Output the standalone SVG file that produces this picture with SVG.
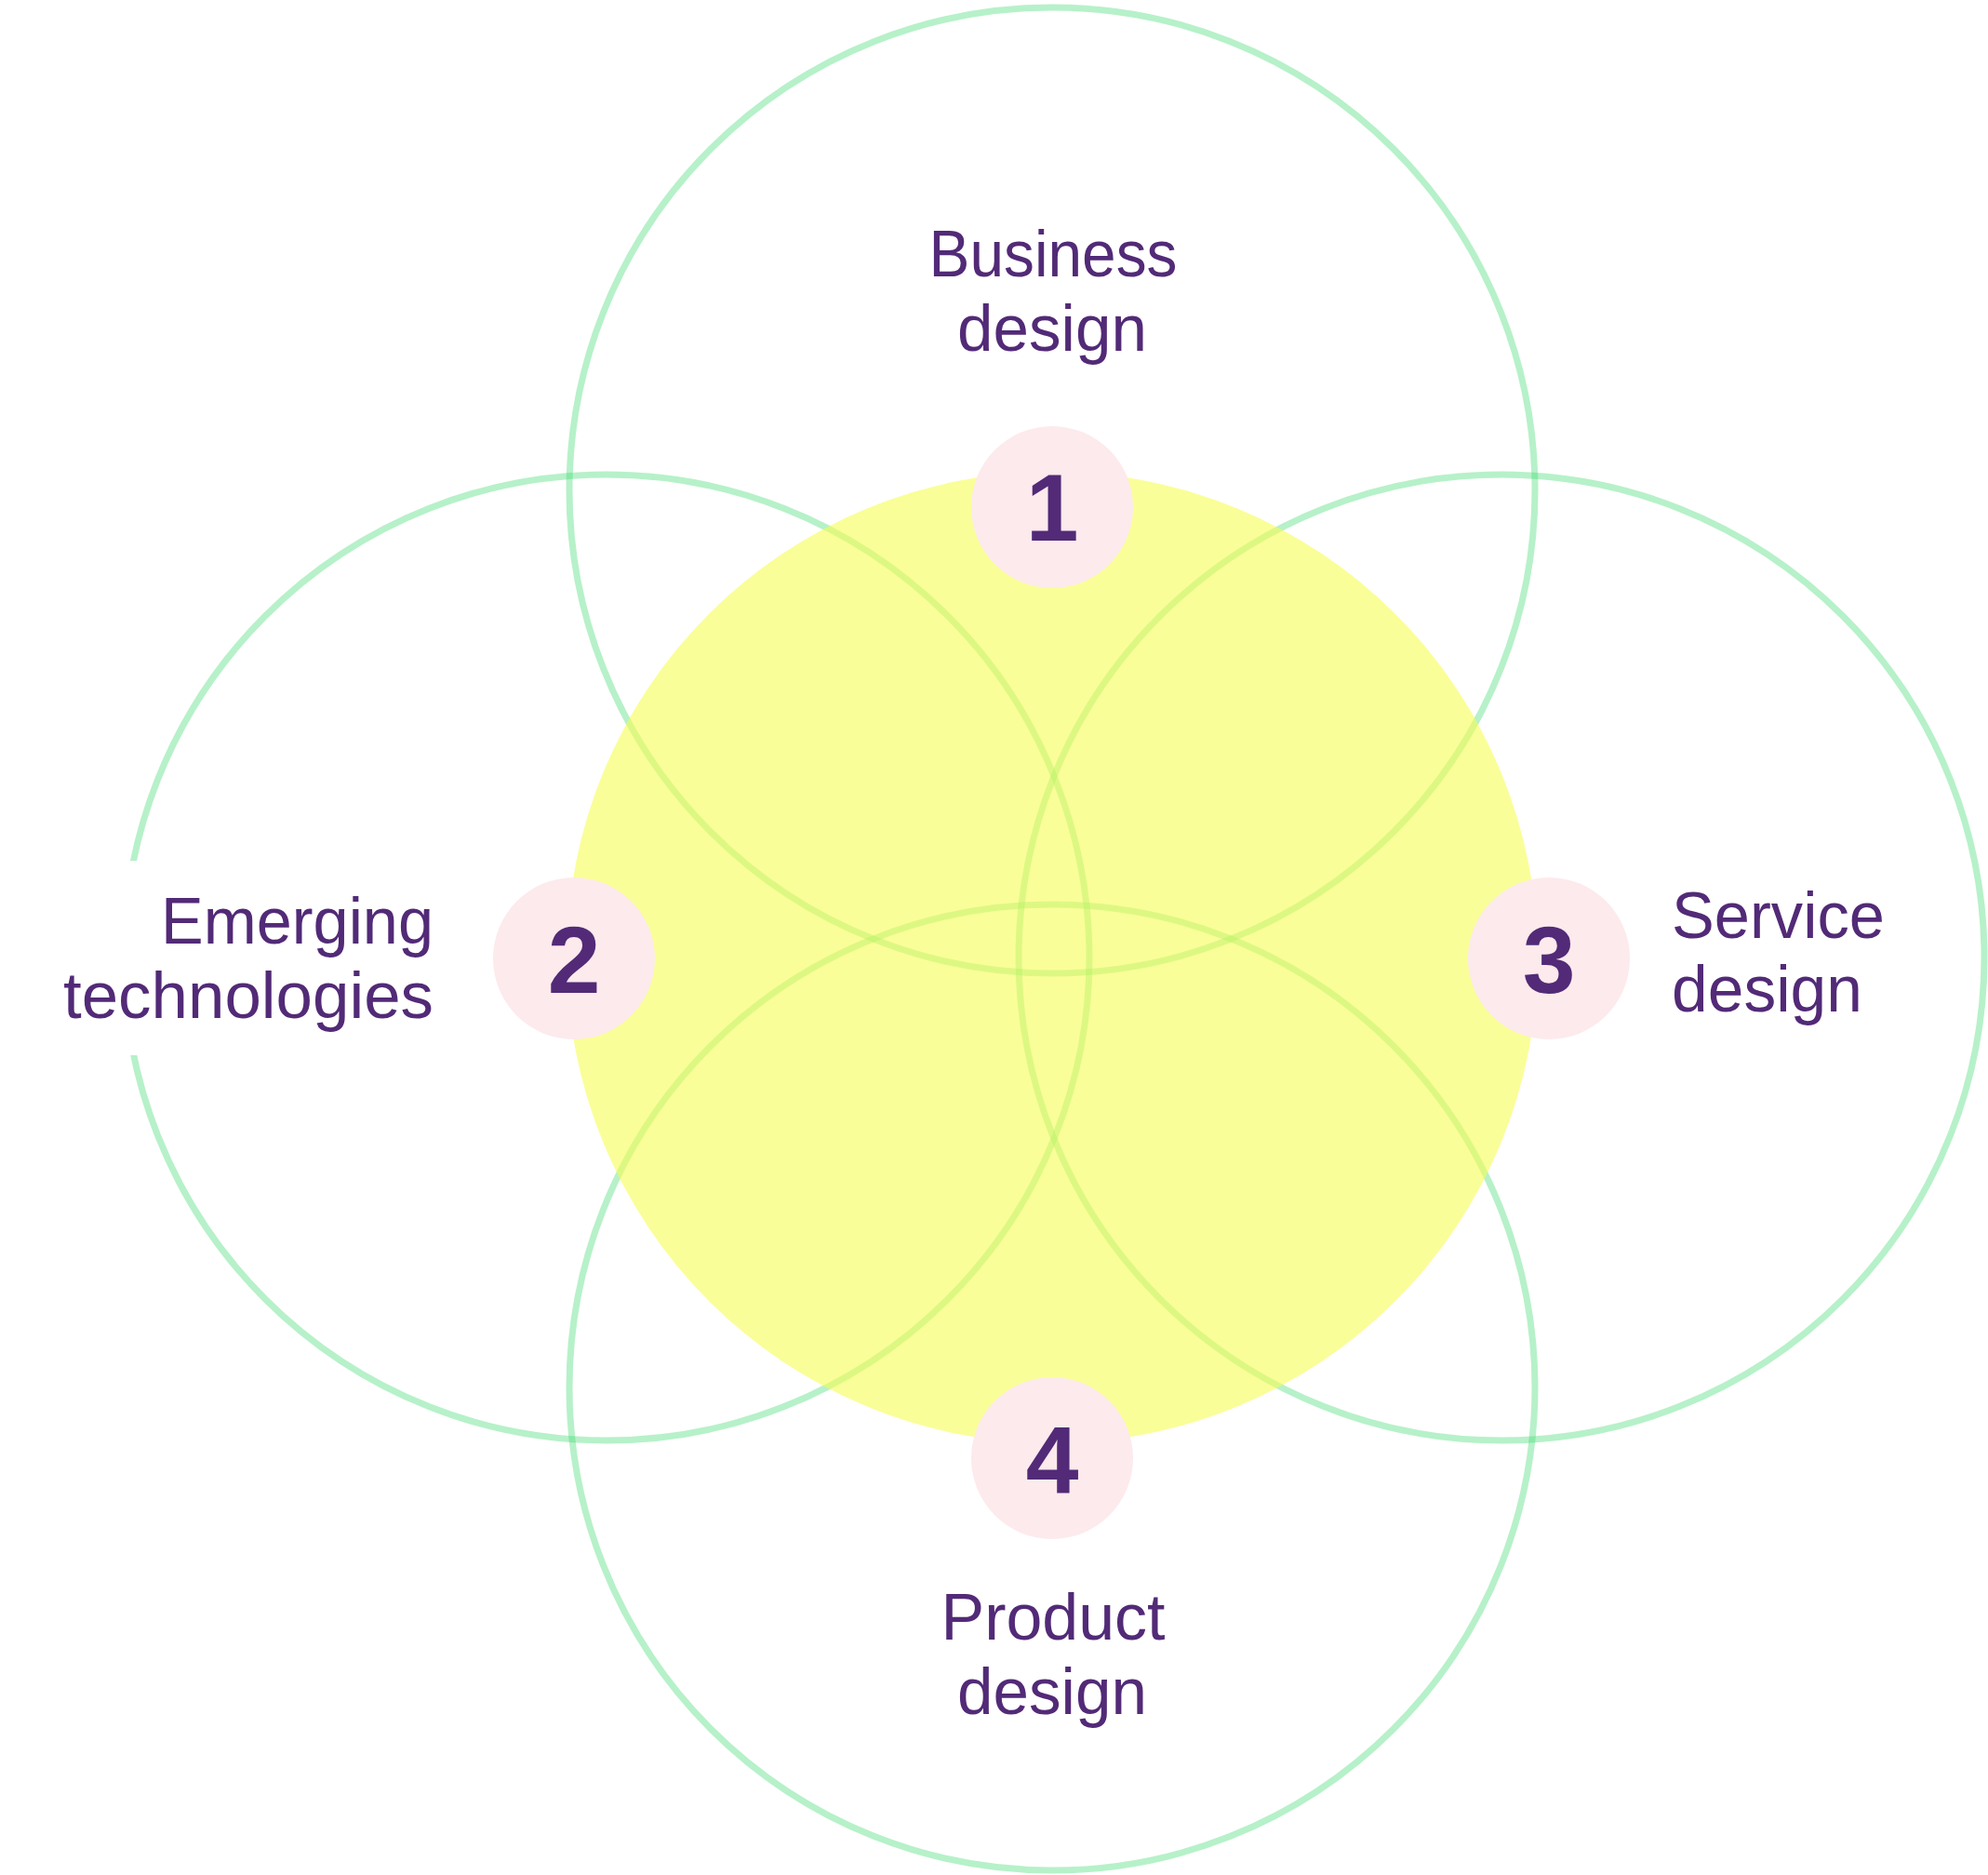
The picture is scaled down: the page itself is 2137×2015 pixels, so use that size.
<svg xmlns="http://www.w3.org/2000/svg" width="2137" height="2015" viewBox="0 0 2137 2015">
  <style>
    .ring { fill: none; stroke: rgb(63,218,113); stroke-opacity: 0.38; stroke-width: 7; }
    .core { fill: rgb(247,253,83); fill-opacity: 0.6; }
    .badge { fill: #fdeaed; }
    .num { font-family: "Liberation Sans", Arial, sans-serif; font-weight: 700; font-size: 102px; fill: #522a77; text-anchor: middle; }
    .lbl { font-family: "Liberation Sans", Arial, sans-serif; font-size: 71px; fill: #522a77; }
  </style>
  <rect x="0" y="0" width="2137" height="2015" fill="#ffffff"/>
  <g id="rings">
    <circle id="ring-business" class="ring" cx="1131" cy="527" r="519"/>
    <circle id="ring-emerging" class="ring" cx="652" cy="1029" r="519"/>
    <circle id="ring-service" class="ring" cx="1614" cy="1029" r="519"/>
    <circle id="ring-product" class="ring" cx="1131" cy="1491" r="519"/>
  </g>
  <rect x="95" y="925" width="90" height="209" fill="#ffffff"/>
  <g id="core">
    <circle class="core" cx="1131" cy="1029" r="522"/>
  </g>
  <g id="node-1">
    <circle class="badge" cx="1131" cy="545" r="87"/>
    <text class="num" x="1131" y="581">1</text>
    <text class="lbl" x="1132" y="297" text-anchor="middle" textLength="267" lengthAdjust="spacingAndGlyphs">Business</text>
    <text class="lbl" x="1131" y="377" text-anchor="middle" textLength="204" lengthAdjust="spacingAndGlyphs">design</text>
  </g>
  <g id="node-2">
    <circle class="badge" cx="617" cy="1030" r="87"/>
    <text class="num" x="617" y="1067">2</text>
    <text class="lbl" x="466" y="1014" text-anchor="end" textLength="293" lengthAdjust="spacingAndGlyphs">Emerging</text>
    <text class="lbl" x="466" y="1094" text-anchor="end" textLength="398" lengthAdjust="spacingAndGlyphs">technologies</text>
  </g>
  <g id="node-3">
    <circle class="badge" cx="1665" cy="1030" r="87"/>
    <text class="num" x="1665" y="1067">3</text>
    <text class="lbl" x="1797" y="1008" textLength="229" lengthAdjust="spacingAndGlyphs">Service</text>
    <text class="lbl" x="1797" y="1087" textLength="205" lengthAdjust="spacingAndGlyphs">design</text>
  </g>
  <g id="node-4">
    <circle class="badge" cx="1131" cy="1567" r="87"/>
    <text class="num" x="1131" y="1604">4</text>
    <text class="lbl" x="1132" y="1762" text-anchor="middle" textLength="241" lengthAdjust="spacingAndGlyphs">Product</text>
    <text class="lbl" x="1131" y="1842" text-anchor="middle" textLength="204" lengthAdjust="spacingAndGlyphs">design</text>
  </g>
</svg>
